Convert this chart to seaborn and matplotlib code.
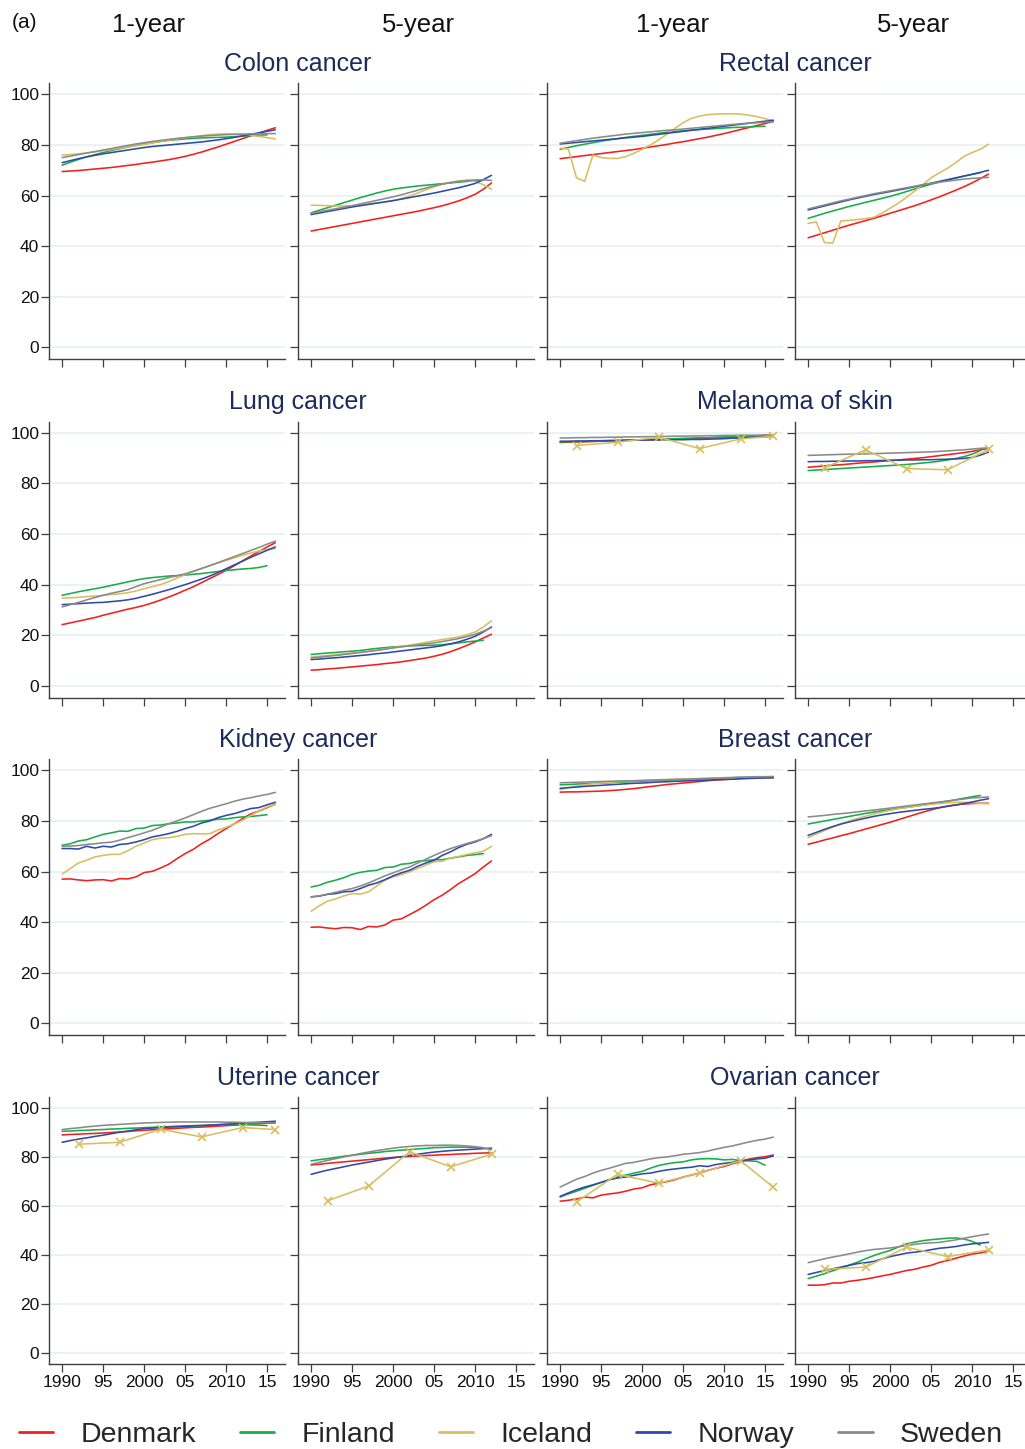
import matplotlib
matplotlib.use("Agg")
import matplotlib.pyplot as plt
import seaborn as sns
import pandas as pd
from matplotlib.lines import Line2D

# ---------------- data ----------------
COUNTRIES = ["Denmark", "Finland", "Iceland", "Norway", "Sweden"]
COLORS = {"Denmark": "#f31f1f", "Finland": "#17ad48", "Iceland": "#d8be5e",
          "Norway": "#2f4aa8", "Sweden": "#8a8a8a"}

YEARS_1Y = list(range(1990, 2017))
YEARS_5Y = list(range(1990, 2013))
ICELAND_YEARS_1Y = [1992, 1997, 2002, 2007, 2012, 2016]
ICELAND_YEARS_5Y = [1992, 1997, 2002, 2007, 2012]

XTICKS = [1990, 1995, 2000, 2005, 2010, 2015]
XTICK_LABELS = ["1990", "95", "2000", "05", "2010", "15"]
YTICKS = [0, 20, 40, 60, 80, 100]

CANCERS = [["Colon cancer", "Rectal cancer"],
           ["Lung cancer", "Melanoma of skin"],
           ["Kidney cancer", "Breast cancer"],
           ["Uterine cancer", "Ovarian cancer"]]
HORIZONS = ["1-year", "5-year", "1-year", "5-year"]

colon_1y = dict(
    Denmark=[69.5, 69.7, 69.9, 70.2, 70.5, 70.8, 71.1, 71.5, 71.9, 72.3, 72.8, 73.2, 73.7, 74.2, 74.8, 75.5, 76.3, 77.2, 78.2, 79.2, 80.3, 81.4, 82.5, 83.6, 84.7, 85.8, 86.8],
    Finland=[72.0, 73.2, 74.3, 75.3, 76.2, 77.0, 77.8, 78.5, 79.2, 79.8, 80.4, 80.9, 81.4, 81.8, 82.1, 82.4, 82.6, 82.8, 82.9, 83.0, 83.1, 83.3, 83.5, 83.7, 83.9, 84.0],
    Iceland=[76.0, 76.2, 76.5, 76.9, 77.3, 77.7, 78.2, 78.7, 79.2, 79.7, 80.2, 80.8, 81.4, 81.9, 82.4, 82.9, 83.3, 83.7, 84.1, 84.3, 84.4, 84.3, 84.1, 83.8, 83.4, 82.9, 82.4],
    Norway=[73.0, 73.8, 74.6, 75.3, 75.9, 76.5, 77.0, 77.5, 78.0, 78.5, 79.0, 79.4, 79.7, 80.0, 80.3, 80.6, 80.9, 81.2, 81.6, 82.0, 82.5, 83.0, 83.6, 84.2, 84.8, 85.4, 86.0],
    Sweden=[75.0, 75.6, 76.2, 76.8, 77.4, 78.0, 78.6, 79.2, 79.8, 80.4, 80.9, 81.4, 81.8, 82.2, 82.6, 82.9, 83.2, 83.5, 83.7, 83.9, 84.1, 84.2, 84.3, 84.4, 84.4, 84.5, 84.5],
)
colon_5y = dict(
    Denmark=[46.0, 46.6, 47.2, 47.8, 48.4, 49.0, 49.6, 50.2, 50.8, 51.4, 52.0, 52.6, 53.2, 53.8, 54.5, 55.2, 56.0, 56.9, 57.9, 59.1, 60.5, 62.5, 65.0],
    Finland=[53.2, 54.2, 55.2, 56.2, 57.2, 58.2, 59.2, 60.1, 61.0, 61.8, 62.5, 63.0, 63.4, 63.8, 64.1, 64.4, 64.7, 65.0, 65.3, 65.6, 65.8, 66.0],
    Iceland=[56.2, 56.1, 56.0, 55.9, 55.9, 56.0, 56.3, 56.7, 57.1, 57.5, 58.0, 58.8, 59.8, 61.0, 62.3, 63.5, 64.5, 65.3, 65.8, 66.0, 65.6, 64.3, 62.5],
    Norway=[52.5, 53.1, 53.7, 54.3, 54.9, 55.5, 56.0, 56.5, 57.0, 57.5, 58.0, 58.6, 59.2, 59.8, 60.4, 61.0, 61.7, 62.4, 63.1, 63.9, 64.8, 66.3, 68.0],
    Sweden=[53.0, 53.6, 54.2, 54.8, 55.4, 56.0, 56.7, 57.4, 58.1, 58.8, 59.5, 60.3, 61.2, 62.1, 63.0, 63.8, 64.5, 65.1, 65.6, 66.0, 66.2, 66.2, 66.0],
)
rectal_1y = dict(
    Denmark=[74.6, 75.0, 75.4, 75.8, 76.2, 76.6, 77.0, 77.4, 77.8, 78.2, 78.7, 79.2, 79.7, 80.2, 80.8, 81.3, 81.9, 82.5, 83.1, 83.8, 84.5, 85.3, 86.1, 86.9, 87.7, 88.5, 89.3],
    Finland=[78.3, 79.0, 79.7, 80.3, 80.9, 81.5, 82.0, 82.5, 83.0, 83.4, 83.8, 84.2, 84.6, 85.0, 85.3, 85.6, 85.9, 86.1, 86.3, 86.5, 86.7, 86.9, 87.0, 87.1, 87.3, 87.4],
    Iceland=[78.7, 78.4, 67.0, 65.7, 76.0, 75.0, 74.7, 74.7, 75.4, 76.7, 78.3, 80.0, 82.0, 84.2, 86.6, 88.8, 90.5, 91.4, 92.0, 92.2, 92.3, 92.3, 92.2, 91.8, 91.2, 90.4, 89.5],
    Norway=[80.4, 80.7, 81.0, 81.3, 81.6, 81.9, 82.2, 82.5, 82.8, 83.1, 83.4, 83.8, 84.2, 84.6, 85.0, 85.4, 85.8, 86.2, 86.6, 87.0, 87.4, 87.8, 88.2, 88.6, 89.0, 89.4, 89.8],
    Sweden=[80.7, 81.2, 81.7, 82.2, 82.7, 83.1, 83.5, 83.9, 84.3, 84.6, 84.9, 85.2, 85.5, 85.8, 86.0, 86.3, 86.6, 86.9, 87.2, 87.5, 87.8, 88.1, 88.4, 88.6, 88.8, 89.0, 89.2],
)
rectal_5y = dict(
    Denmark=[43.3, 44.3, 45.3, 46.3, 47.3, 48.3, 49.2, 50.1, 51.0, 52.0, 53.0, 54.0, 55.0, 56.0, 57.1, 58.3, 59.5, 60.8, 62.1, 63.5, 65.0, 66.7, 68.5],
    Finland=[51.0, 52.0, 53.0, 53.9, 54.8, 55.7, 56.5, 57.3, 58.1, 58.9, 59.7, 60.6, 61.6, 62.6, 63.6, 64.5, 65.3, 66.1, 66.9, 67.7, 68.4, 69.0],
    Iceland=[49.0, 49.6, 41.4, 41.2, 50.0, 50.2, 50.5, 50.9, 51.4, 53.0, 55.0, 57.0, 59.3, 61.8, 64.4, 67.0, 69.0, 70.8, 73.0, 75.5, 77.0, 78.3, 80.3],
    Norway=[54.3, 55.1, 55.9, 56.7, 57.5, 58.3, 59.0, 59.7, 60.4, 61.0, 61.6, 62.2, 62.8, 63.5, 64.2, 64.9, 65.6, 66.3, 67.0, 67.7, 68.4, 69.2, 70.0],
    Sweden=[54.7, 55.5, 56.3, 57.1, 57.9, 58.6, 59.3, 60.0, 60.7, 61.3, 61.9, 62.5, 63.1, 63.7, 64.3, 64.8, 65.3, 65.7, 66.1, 66.5, 66.8, 67.0, 67.2],
)
lung_1y = dict(
    Denmark=[24.2, 24.9, 25.6, 26.3, 27.0, 27.9, 28.7, 29.5, 30.3, 31.0, 31.8, 32.8, 33.9, 35.1, 36.4, 37.8, 39.2, 40.8, 42.4, 44.0, 45.7, 47.5, 49.4, 51.3, 53.1, 54.9, 56.6],
    Finland=[35.8, 36.5, 37.2, 37.8, 38.4, 39.0, 39.7, 40.4, 41.1, 41.8, 42.4, 42.8, 43.1, 43.4, 43.6, 43.8, 44.1, 44.4, 44.8, 45.2, 45.6, 45.9, 46.2, 46.4, 46.8, 47.5],
    Iceland=[34.7, 34.8, 35.0, 35.3, 35.5, 35.8, 36.1, 36.4, 36.8, 37.5, 38.4, 39.2, 40.0, 41.2, 42.6, 44.0, 45.2, 46.4, 47.5, 48.6, 49.6, 50.6, 51.6, 52.5, 53.3, 53.9, 54.2],
    Norway=[32.1, 32.3, 32.5, 32.7, 32.9, 33.0, 33.3, 33.6, 34.0, 34.6, 35.4, 36.2, 37.1, 38.0, 39.0, 40.0, 41.1, 42.2, 43.4, 44.8, 46.3, 47.8, 49.3, 50.8, 52.2, 53.6, 54.9],
    Sweden=[31.2, 32.1, 33.0, 34.0, 34.9, 35.8, 36.6, 37.3, 38.0, 39.2, 40.4, 41.2, 42.0, 42.8, 43.5, 44.3, 45.3, 46.4, 47.5, 48.7, 49.9, 51.1, 52.3, 53.5, 54.7, 56.0, 57.2],
)
lung_5y = dict(
    Denmark=[6.2, 6.4, 6.7, 6.9, 7.2, 7.5, 7.8, 8.1, 8.4, 8.8, 9.1, 9.5, 10.0, 10.5, 11.0, 11.7, 12.5, 13.5, 14.7, 16.0, 17.4, 18.9, 20.4],
    Finland=[12.4, 12.7, 13.0, 13.2, 13.5, 13.7, 14.0, 14.4, 14.8, 15.1, 15.4, 15.6, 15.8, 15.9, 16.0, 16.1, 16.3, 16.6, 17.0, 17.4, 17.7, 18.0],
    Iceland=[11.4, 11.7, 12.0, 12.3, 12.7, 13.0, 13.3, 13.7, 14.1, 14.6, 15.1, 15.6, 16.1, 16.6, 17.2, 17.8, 18.3, 18.8, 19.3, 20.2, 21.3, 23.3, 25.7],
    Norway=[10.4, 10.6, 10.9, 11.1, 11.4, 11.7, 12.0, 12.3, 12.7, 13.0, 13.4, 13.8, 14.2, 14.6, 15.0, 15.4, 15.9, 16.6, 17.4, 18.4, 19.6, 21.3, 23.3],
    Sweden=[11.0, 11.3, 11.7, 12.0, 12.4, 12.8, 13.2, 13.6, 14.0, 14.5, 15.0, 15.4, 15.8, 16.2, 16.6, 17.0, 17.5, 18.1, 18.7, 19.5, 20.4, 21.6, 23.0],
)
melanoma_1y = dict(
    Denmark=[96.2, 96.3, 96.4, 96.5, 96.6, 96.7, 96.8, 96.9, 97.0, 97.1, 97.2, 97.3, 97.4, 97.5, 97.6, 97.7, 97.8, 97.9, 98.0, 98.1, 98.2, 98.3, 98.4, 98.5, 98.6, 98.6, 98.7],
    Finland=[96.4, 96.5, 96.6, 96.6, 96.7, 96.8, 96.9, 97.0, 97.1, 97.2, 97.3, 97.4, 97.5, 97.6, 97.7, 97.8, 97.9, 98.0, 98.1, 98.3, 98.4, 98.5, 98.6, 98.7, 98.8, 98.9],
    Iceland=[95.0, 96.3, 98.3, 93.8, 97.6, 98.7],
    Norway=[96.7, 96.7, 96.8, 96.8, 96.9, 96.9, 97.0, 97.0, 97.1, 97.1, 97.2, 97.2, 97.2, 97.3, 97.3, 97.3, 97.4, 97.4, 97.5, 97.6, 97.7, 97.9, 98.0, 98.2, 98.3, 98.5, 98.6],
    Sweden=[98.0, 98.0, 98.1, 98.1, 98.2, 98.2, 98.3, 98.3, 98.4, 98.4, 98.5, 98.5, 98.6, 98.6, 98.7, 98.7, 98.8, 98.8, 98.9, 98.9, 99.0, 99.0, 99.1, 99.1, 99.1, 99.2, 99.2],
)
melanoma_5y = dict(
    Denmark=[86.4, 86.7, 86.9, 87.2, 87.4, 87.7, 88.0, 88.3, 88.5, 88.8, 89.0, 89.3, 89.6, 89.9, 90.2, 90.6, 91.0, 91.4, 91.8, 92.2, 92.7, 93.3, 93.9],
    Finland=[85.1, 85.3, 85.5, 85.7, 85.9, 86.1, 86.3, 86.5, 86.7, 86.9, 87.1, 87.3, 87.5, 87.8, 88.1, 88.4, 88.8, 89.3, 89.9, 90.6, 91.6, 93.0],
    Iceland=[86.2, 93.3, 85.9, 85.4, 93.5],
    Norway=[88.6, 88.7, 88.7, 88.8, 88.8, 88.9, 88.9, 89.0, 89.0, 89.1, 89.2, 89.2, 89.3, 89.3, 89.4, 89.4, 89.5, 89.6, 89.7, 89.9, 90.3, 91.2, 92.4],
    Sweden=[91.1, 91.2, 91.3, 91.4, 91.5, 91.6, 91.6, 91.7, 91.8, 91.9, 92.0, 92.1, 92.2, 92.3, 92.4, 92.5, 92.7, 92.9, 93.1, 93.3, 93.6, 93.9, 94.1],
)
kidney_1y = dict(
    Denmark=[57.0, 57.1, 56.7, 56.4, 56.7, 56.8, 56.3, 57.2, 57.1, 57.9, 59.6, 60.1, 61.4, 62.9, 65.1, 67.1, 68.8, 71.0, 72.8, 75.0, 77.0, 78.9, 80.9, 82.8, 83.9, 85.3, 86.6],
    Finland=[70.4, 71.0, 72.1, 72.6, 73.7, 74.7, 75.3, 76.0, 75.9, 77.0, 77.2, 78.2, 78.4, 78.9, 79.2, 79.6, 79.6, 80.0, 80.3, 80.7, 80.8, 81.3, 81.6, 81.8, 82.1, 82.5],
    Iceland=[59.0, 61.2, 63.4, 64.5, 65.8, 66.4, 66.8, 66.8, 68.2, 70.0, 71.3, 72.6, 73.2, 73.4, 73.9, 74.7, 75.0, 74.9, 75.0, 76.4, 77.5, 78.8, 80.3, 82.2, 84.0, 85.5, 86.5],
    Norway=[69.1, 69.1, 68.9, 70.0, 69.3, 70.0, 69.7, 70.7, 71.0, 71.7, 72.6, 73.7, 74.3, 75.0, 75.9, 77.0, 77.9, 79.2, 80.0, 81.3, 82.2, 82.9, 83.9, 84.9, 85.3, 86.4, 87.4],
    Sweden=[70.0, 70.1, 70.3, 70.7, 71.0, 71.4, 71.6, 72.4, 73.4, 74.3, 75.3, 76.3, 77.6, 78.9, 80.0, 81.2, 82.5, 83.8, 85.0, 85.9, 86.8, 87.8, 88.6, 89.2, 89.9, 90.5, 91.3],
)
kidney_5y = dict(
    Denmark=[38.0, 38.1, 37.7, 37.4, 37.9, 37.8, 37.1, 38.3, 38.1, 38.9, 40.8, 41.3, 43.0, 44.7, 46.7, 48.9, 50.7, 52.9, 55.3, 57.2, 59.2, 61.8, 64.2],
    Finland=[53.9, 54.6, 55.8, 56.6, 57.6, 58.9, 59.7, 60.2, 60.5, 61.6, 61.8, 62.9, 63.2, 64.1, 64.3, 64.7, 64.7, 65.3, 65.8, 66.4, 66.7, 67.1],
    Iceland=[44.3, 46.5, 48.3, 49.2, 50.4, 51.3, 51.1, 52.0, 54.3, 56.6, 57.9, 58.8, 59.9, 61.2, 62.6, 63.9, 64.1, 65.4, 66.0, 66.8, 67.4, 68.0, 70.0],
    Norway=[50.0, 50.3, 51.0, 51.3, 52.0, 52.2, 53.3, 54.6, 55.5, 56.8, 58.3, 59.5, 60.5, 62.1, 63.4, 64.5, 66.4, 67.8, 69.5, 70.8, 71.7, 73.0, 74.7],
    Sweden=[50.0, 50.4, 51.1, 51.8, 52.6, 53.3, 54.3, 55.5, 56.9, 58.3, 59.5, 60.7, 61.8, 63.4, 64.9, 66.4, 67.8, 69.1, 70.1, 71.1, 72.0, 73.0, 74.2],
)
breast_1y = dict(
    Denmark=[91.4, 91.5, 91.5, 91.6, 91.7, 91.8, 92.0, 92.2, 92.5, 92.8, 93.2, 93.6, 94.0, 94.4, 94.7, 95.0, 95.3, 95.6, 95.9, 96.2, 96.4, 96.6, 96.8, 96.9, 97.0, 97.1, 97.1],
    Finland=[94.3, 94.4, 94.6, 94.7, 94.9, 95.0, 95.1, 95.3, 95.4, 95.6, 95.7, 95.9, 96.0, 96.1, 96.3, 96.4, 96.5, 96.6, 96.7, 96.8, 97.0, 97.1, 97.2, 97.2, 97.3, 97.4],
    Iceland=[92.4, 93.1, 93.8, 94.3, 94.7, 95.0, 95.3, 95.5, 95.7, 95.9, 96.0, 96.2, 96.3, 96.4, 96.5, 96.6, 96.7, 96.8, 96.9, 96.9, 97.0, 97.0, 97.0, 97.0, 97.0, 97.0, 97.0],
    Norway=[92.9, 93.2, 93.4, 93.7, 93.9, 94.1, 94.3, 94.5, 94.7, 94.9, 95.0, 95.2, 95.4, 95.5, 95.7, 95.8, 95.9, 96.1, 96.2, 96.3, 96.4, 96.5, 96.7, 96.8, 96.9, 97.0, 97.1],
    Sweden=[95.1, 95.2, 95.3, 95.4, 95.5, 95.6, 95.7, 95.8, 95.9, 95.9, 96.0, 96.1, 96.2, 96.3, 96.4, 96.5, 96.6, 96.7, 96.8, 96.9, 97.1, 97.2, 97.3, 97.4, 97.5, 97.5, 97.6],
)
breast_5y = dict(
    Denmark=[70.8, 71.6, 72.5, 73.3, 74.2, 75.0, 75.9, 76.8, 77.7, 78.6, 79.5, 80.5, 81.5, 82.5, 83.5, 84.4, 85.2, 85.9, 86.4, 86.7, 86.9, 87.0, 87.0],
    Finland=[78.8, 79.4, 80.0, 80.6, 81.2, 81.8, 82.4, 83.0, 83.5, 84.0, 84.5, 85.0, 85.4, 85.8, 86.3, 86.8, 87.3, 87.8, 88.4, 89.0, 89.6, 90.1],
    Iceland=[73.4, 74.8, 76.2, 77.5, 78.8, 80.0, 81.0, 81.9, 82.7, 83.5, 84.2, 84.8, 85.3, 85.8, 86.2, 86.6, 86.9, 87.2, 87.4, 87.4, 87.2, 87.0, 86.8],
    Norway=[74.3, 75.5, 76.7, 77.8, 78.8, 79.6, 80.4, 81.1, 81.8, 82.4, 82.9, 83.4, 83.8, 84.2, 84.6, 84.9, 85.3, 85.8, 86.3, 86.9, 87.5, 88.2, 88.8],
    Sweden=[81.6, 81.9, 82.2, 82.6, 82.9, 83.2, 83.6, 84.0, 84.3, 84.7, 85.1, 85.5, 85.9, 86.3, 86.7, 87.1, 87.5, 87.9, 88.3, 88.7, 89.1, 89.3, 89.5],
)
uterine_1y = dict(
    Denmark=[89.0, 89.2, 89.3, 89.5, 89.6, 89.8, 90.0, 90.2, 90.4, 90.7, 90.9, 91.1, 91.3, 91.5, 91.7, 91.9, 92.1, 92.2, 92.4, 92.6, 92.8, 93.0, 93.2, 93.4, 93.6, 93.8, 93.9],
    Finland=[90.5, 90.6, 90.8, 90.9, 91.1, 91.2, 91.4, 91.5, 91.7, 91.8, 92.0, 92.1, 92.3, 92.4, 92.6, 92.7, 92.8, 92.9, 93.0, 93.1, 93.2, 93.2, 93.2, 93.1, 93.0, 92.8],
    Iceland=[85.2, 86.0, 91.3, 88.2, 92.0, 91.2],
    Norway=[86.0, 86.7, 87.3, 87.8, 88.4, 88.9, 89.5, 90.1, 90.6, 91.1, 91.6, 91.8, 92.0, 92.2, 92.3, 92.5, 92.7, 92.8, 93.0, 93.2, 93.4, 93.6, 93.8, 94.0, 94.2, 94.4, 94.6],
    Sweden=[91.2, 91.6, 91.9, 92.3, 92.6, 92.9, 93.1, 93.3, 93.5, 93.7, 93.9, 94.0, 94.1, 94.2, 94.3, 94.3, 94.3, 94.3, 94.3, 94.3, 94.2, 94.2, 94.1, 94.1, 94.0, 94.0, 94.0],
)
uterine_5y = dict(
    Denmark=[76.7, 77.0, 77.4, 77.7, 78.0, 78.3, 78.6, 78.9, 79.2, 79.5, 79.8, 80.0, 80.2, 80.4, 80.6, 80.7, 80.9, 81.0, 81.2, 81.3, 81.5, 81.6, 81.7],
    Finland=[78.4, 78.9, 79.3, 79.8, 80.3, 80.7, 81.1, 81.5, 81.8, 82.2, 82.5, 82.8, 83.0, 83.3, 83.5, 83.8, 83.9, 84.0, 84.0, 84.0, 83.9, 83.8],
    Iceland=[62.1, 68.1, 82.1, 76.0, 81.1],
    Norway=[72.9, 73.8, 74.6, 75.3, 76.0, 76.7, 77.3, 77.9, 78.5, 79.1, 79.6, 80.1, 80.6, 81.1, 81.6, 82.0, 82.3, 82.6, 82.8, 83.0, 83.2, 83.4, 83.6],
    Sweden=[77.0, 77.8, 78.6, 79.3, 80.0, 80.7, 81.4, 82.0, 82.6, 83.1, 83.6, 84.0, 84.3, 84.5, 84.7, 84.7, 84.8, 84.8, 84.7, 84.5, 84.2, 83.7, 83.0],
)
ovarian_1y = dict(
    Denmark=[61.9, 62.3, 62.8, 63.6, 63.3, 64.4, 64.9, 65.3, 66.0, 66.9, 67.4, 68.6, 69.3, 69.9, 70.7, 71.8, 72.6, 73.4, 74.5, 75.4, 76.1, 77.2, 78.1, 79.1, 79.7, 80.1, 80.8],
    Finland=[63.6, 64.9, 66.0, 67.2, 68.4, 69.6, 70.7, 71.8, 72.6, 73.4, 74.1, 75.4, 76.5, 77.2, 77.7, 78.0, 78.8, 79.2, 79.3, 79.2, 78.8, 79.0, 78.5, 78.4, 78.2, 76.6],
    Iceland=[61.6, 72.9, 69.3, 73.4, 78.5, 67.6],
    Norway=[63.9, 65.3, 66.6, 67.7, 68.6, 69.6, 70.7, 71.4, 71.8, 72.5, 73.1, 73.4, 74.1, 74.7, 75.1, 75.5, 75.8, 76.4, 76.1, 76.9, 77.4, 77.8, 78.4, 78.8, 79.2, 79.5, 80.4],
    Sweden=[67.7, 69.3, 70.9, 72.0, 73.4, 74.5, 75.4, 76.4, 77.4, 77.8, 78.5, 79.2, 79.7, 80.0, 80.5, 81.1, 81.4, 81.8, 82.4, 83.2, 83.9, 84.5, 85.3, 86.1, 86.8, 87.3, 88.1],
)
ovarian_5y = dict(
    Denmark=[27.6, 27.6, 27.8, 28.5, 28.5, 29.2, 29.6, 30.1, 30.7, 31.4, 32.0, 32.8, 33.6, 34.1, 35.0, 35.7, 36.9, 37.7, 38.6, 39.5, 40.3, 40.8, 41.5],
    Finland=[30.3, 31.3, 32.3, 33.5, 34.6, 35.8, 37.0, 38.4, 39.7, 40.8, 41.8, 43.2, 44.5, 45.2, 45.8, 46.2, 46.5, 46.8, 46.9, 46.5, 45.5, 44.0],
    Iceland=[34.1, 35.0, 43.1, 39.3, 42.0],
    Norway=[32.0, 32.8, 33.6, 34.3, 35.0, 35.7, 36.4, 36.8, 37.3, 38.3, 39.3, 40.0, 40.7, 41.1, 41.5, 42.1, 42.7, 43.0, 43.4, 44.0, 44.5, 44.8, 45.1],
    Sweden=[36.8, 37.6, 38.4, 39.1, 39.7, 40.4, 41.1, 41.7, 42.2, 42.5, 42.8, 43.3, 43.8, 44.3, 44.7, 44.9, 45.1, 45.6, 46.1, 46.8, 47.4, 48.0, 48.5],
)

PANELS = [
    [colon_1y, colon_5y, rectal_1y, rectal_5y],
    [lung_1y, lung_5y, melanoma_1y, melanoma_5y],
    [kidney_1y, kidney_5y, breast_1y, breast_5y],
    [uterine_1y, uterine_5y, ovarian_1y, ovarian_5y],
]


def years_for(n, horizon):
    base = YEARS_1Y if horizon == "1-year" else YEARS_5Y
    marks = ICELAND_YEARS_1Y if horizon == "1-year" else ICELAND_YEARS_5Y
    if n == len(base):
        return base, False
    if n == len(base) - 1:
        return base[:-1], False
    return marks, True


# ---------------- layout ----------------
W, H = 1025, 1449
sns.set_theme(style="white")
plt.rcParams["font.family"] = ["Liberation Sans", "DejaVu Sans"]

fig = plt.figure(figsize=(W / 100, H / 100), dpi=100)

COL_LEFT = [49, 298, 547, 795]
COL_W = [236, 236, 236, 230]
ROW_TOP = [83, 421.5, 759, 1097]
ROW_H = [276, 276, 276, 267]
PX_PER_YEAR = 8.2
X0 = 1988.4
SPINE = "#3f3f3f"
GRID = "#e6eff1"
TITLE_C = "#1c2b5a"

for r in range(4):
    for c in range(4):
        horizon = HORIZONS[c]
        panel = PANELS[r][c]
        ax = fig.add_axes([COL_LEFT[c] / W, 1 - (ROW_TOP[r] + ROW_H[r]) / H,
                           COL_W[c] / W, ROW_H[r] / H])
        rows_line, rows_mark = [], []
        for country in COUNTRIES:
            vals = panel[country]
            yrs, marked = years_for(len(vals), horizon)
            target = rows_mark if marked else rows_line
            for yv, v in zip(yrs, vals):
                target.append({"year": yv, "value": v, "country": country})
        df_line = pd.DataFrame(rows_line)
        order = [k for k in COUNTRIES if k in set(df_line["country"])]
        sns.lineplot(data=df_line, x="year", y="value", hue="country",
                     hue_order=order, palette=COLORS, estimator=None,
                     legend=False, ax=ax, linewidth=1.15)
        if rows_mark:
            df_mark = pd.DataFrame(rows_mark)
            sns.lineplot(data=df_mark, x="year", y="value", color=COLORS["Iceland"],
                         estimator=None, legend=False, ax=ax, linewidth=1.15,
                         marker="x", markersize=6, markeredgewidth=1.2,
                         markeredgecolor=COLORS["Iceland"])
        ax.set_xlim(X0, X0 + COL_W[c] / PX_PER_YEAR)
        ax.set_ylim(-4.6, 104.5)
        ax.set_xlabel("")
        ax.set_ylabel("")
        ax.set_yticks(YTICKS)
        ax.set_xticks(XTICKS)
        ax.set_xticklabels(XTICK_LABELS)
        ax.yaxis.grid(True, color=GRID, linewidth=1.1)
        ax.xaxis.grid(False)
        ax.set_axisbelow(True)
        for s in ["top", "right"]:
            ax.spines[s].set_visible(False)
        for s in ["left", "bottom"]:
            ax.spines[s].set_color(SPINE)
            ax.spines[s].set_linewidth(1.0)
        ax.tick_params(axis="both", which="major", direction="out", length=5.5,
                       width=0.9, color=SPINE, labelsize=12.5, labelcolor="#111111",
                       left=True, bottom=True)
        ax.tick_params(axis="y", pad=1.5)
        ax.tick_params(axis="x", pad=2.5)
        if c != 0:
            ax.tick_params(labelleft=False)
        if r != 3:
            ax.tick_params(labelbottom=False)

# titles
TITLE_Y = [64, 402, 740, 1078]
for r in range(4):
    fig.text(298 / W, 1 - TITLE_Y[r] / H, CANCERS[r][0], ha="center", va="center",
             fontsize=18, color=TITLE_C)
    fig.text(795 / W, 1 - TITLE_Y[r] / H, CANCERS[r][1], ha="center", va="center",
             fontsize=18, color=TITLE_C)

HEADER_X = [149, 418, 673, 913]
for x, lab in zip(HEADER_X, HORIZONS):
    fig.text(x / W, 1 - 25 / H, lab, ha="center", va="center", fontsize=18.5,
             color="#111111")
fig.text(12 / W, 1 - 23 / H, "(a)", ha="left", va="center", fontsize=15,
         color="#111111")

handles = [Line2D([0], [0], color=COLORS[k], lw=2.0) for k in COUNTRIES]
fig.legend(handles, COUNTRIES, loc="center", bbox_to_anchor=(511 / W, 1 - 1435 / H),
           ncol=5, frameon=False, fontsize=20.5, handlelength=1.2,
           handletextpad=0.95, columnspacing=1.55, borderpad=0, borderaxespad=0)

fig.savefig("out.png", dpi=100)
